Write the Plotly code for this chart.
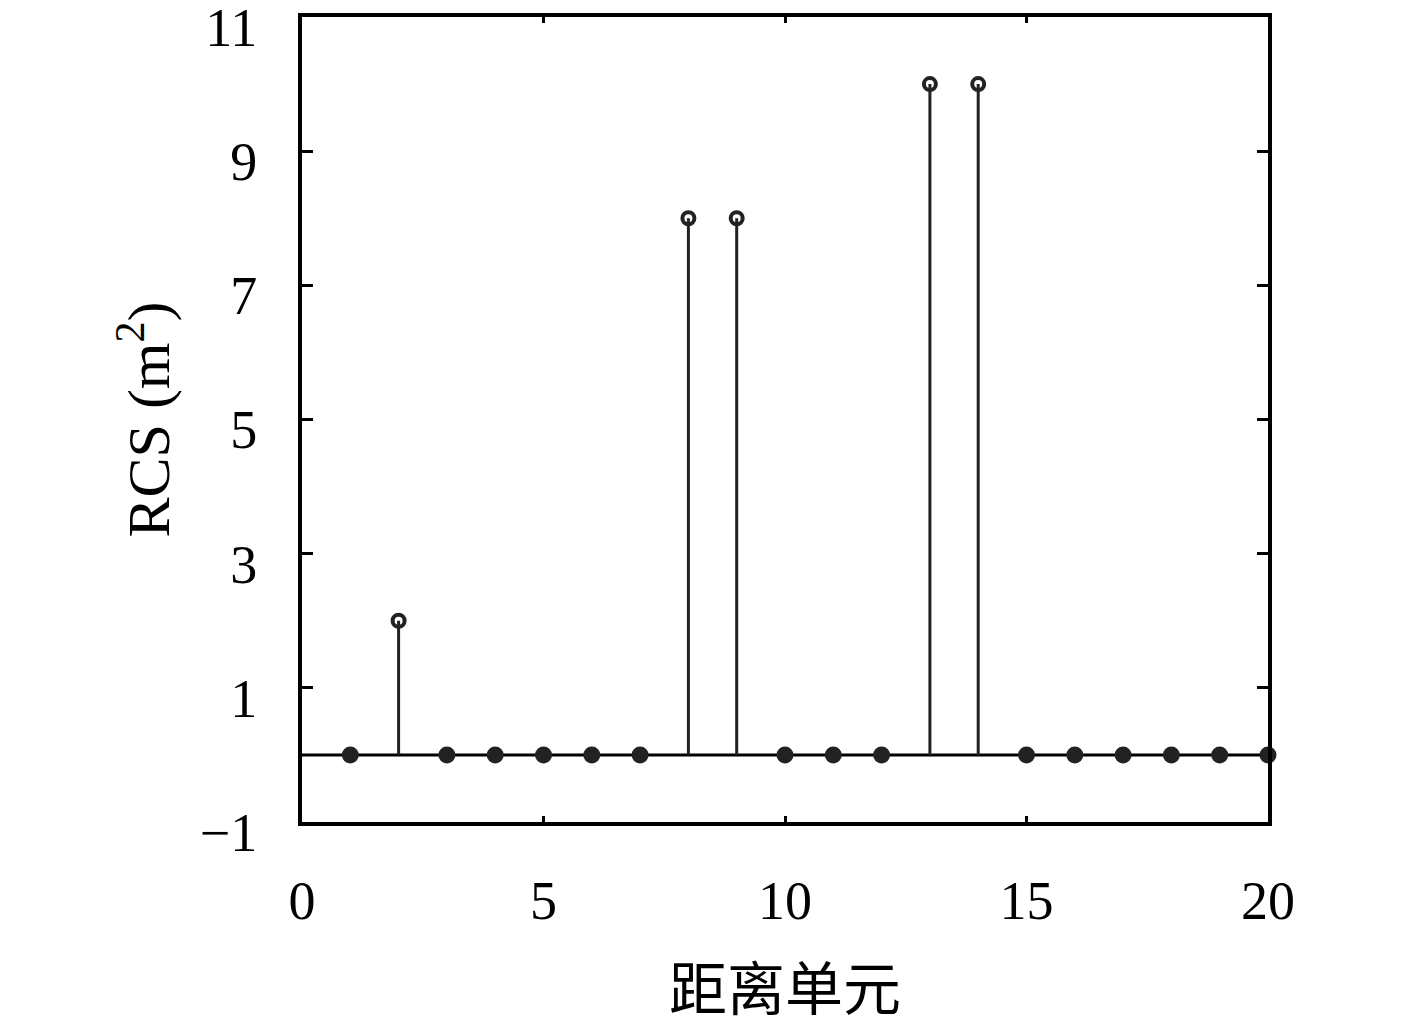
import plotly.graph_objects as go

# Data
cells = list(range(1, 21))
rcs = [0, 2, 0, 0, 0, 0, 0, 8, 8, 0, 0, 0, 10, 10, 0, 0, 0, 0, 0, 0]
x_ticks = [0, 5, 10, 15, 20]
y_ticks = [-1, 1, 3, 5, 7, 9, 11]
x_title = "距离单元"
y_title = "RCS (m<sup>2</sup>)"

LATIN = "Liberation Serif, DejaVu Serif, serif"
CJK = "Noto Sans CJK SC, Liberation Serif, serif"
INK = "#222222"

# stems
sx, sy = [], []
for xv, yv in zip(cells, rcs):
    if yv != 0:
        sx += [xv, xv, None]
        sy += [0, yv, None]

fig = go.Figure()
fig.add_hline(y=0, line=dict(color="black", width=3), layer="below")
fig.add_trace(go.Scatter(x=sx, y=sy, mode="lines",
                         line=dict(color=INK, width=3), hoverinfo="skip"))

zx = [xv for xv, yv in zip(cells, rcs) if yv == 0]
zy = [yv for yv in rcs if yv == 0]
nx = [xv for xv, yv in zip(cells, rcs) if yv != 0]
ny = [yv for yv in rcs if yv != 0]

fig.add_trace(go.Scatter(x=zx, y=zy, mode="markers",
                         marker=dict(symbol="circle", size=17, color=INK),
                         cliponaxis=False))
fig.add_trace(go.Scatter(x=nx, y=ny, mode="markers",
                         marker=dict(symbol="circle-open", size=12, color=INK,
                                     line=dict(width=4, color=INK)),
                         cliponaxis=False))

axis_common = dict(showgrid=False, zeroline=False, showline=True, linecolor="black",
                   linewidth=4, mirror="ticks", ticks="inside", tickcolor="black",
                   tickwidth=3, ticklabeloverflow="allow")

fig.update_xaxes(range=[0, 20], tickvals=x_ticks, ticklen=6,
                 ticklabelstandoff=28,
                 tickfont=dict(family=LATIN, size=54, color="black"),
                 title=dict(text=x_title, font=dict(family=CJK, size=58, color="black"),
                            standoff=41),
                 **axis_common)
fig.update_yaxes(range=[-1, 11], tickvals=y_ticks, ticklen=11,
                 ticklabelstandoff=30, ticklabelshift=10,
                 tickfont=dict(family=LATIN, size=54, color="black"),
                 title=dict(text=y_title, font=dict(family=LATIN, size=60, color="black"),
                            standoff=12),
                 **axis_common)

fig.update_layout(width=1417, height=1028, showlegend=False,
                  plot_bgcolor="white", paper_bgcolor="white",
                  margin=dict(l=294, r=157, t=9, b=214, autoexpand=False))

fig.write_html("out.html")
